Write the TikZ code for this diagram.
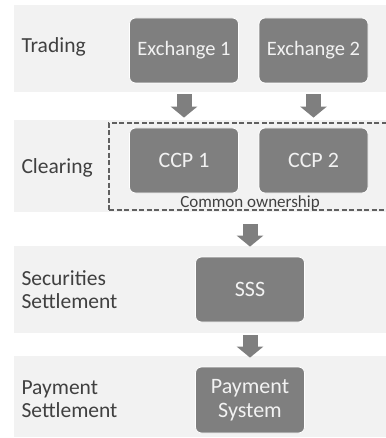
\documentclass[tikz,border=0pt]{standalone}
\usepackage{fontspec}
\setmainfont{Carlito}
\usetikzlibrary{arrows.meta}

\definecolor{bandgray}{HTML}{F2F2F2}
\definecolor{boxgray}{HTML}{7F7F7F}
\definecolor{labelgray}{HTML}{404040}
\definecolor{dashgray}{HTML}{606060}

\tikzset{
  band/.style={fill=bandgray},
  stagebox/.style={fill=boxgray, draw=white, line width=0.8pt, rounded corners=6pt,
    text=bandgray, align=center, font=\fontsize{22}{24}\selectfont,
    minimum width=109pt, minimum height=65pt},
  rowlabel/.style={anchor=west, align=left, text=labelgray, font=\fontsize{21.5}{23}\selectfont},
  flow/.style={draw=boxgray, line width=15pt, -{Triangle[width=26pt,length=11pt]}},
}

\begin{document}
\begin{tikzpicture}[x=1pt, y=-1pt]
    \useasboundingbox (0,0) rectangle (385,438);
    % Bands
    \fill[band] (14,5) rectangle (390,92);
    \fill[band] (14,120) rectangle (390,212);
    \fill[band] (14,246) rectangle (390,333);
    \fill[band] (14,356) rectangle (390,437);

    % Row labels
    \node[rowlabel] (trading) at (18,47) {Trading};
    \node[rowlabel] (clearing) at (18,168) {Clearing};
    \node[rowlabel] (secset) at (18,289.5) {Securities\\Settlement};
    \node[rowlabel] (payset) at (18,399.5) {Payment\\Settlement};

    % Trading and clearing
    \node[stagebox, font=\fontsize{20.5}{23}\selectfont] (ex1) at (184,50.5) {Exchange 1};
    \node[stagebox, font=\fontsize{20.5}{23}\selectfont] (ex2) at (313.5,50.5) {Exchange 2};
    \node[stagebox] (ccp1) at (184,160.5) {CCP 1};
    \node[stagebox] (ccp2) at (313.5,160.5) {CCP 2};
    \node[draw=dashgray, line width=1.5pt, dash pattern=on 5pt off 2.5pt,
      minimum width=279pt, minimum height=87pt] (common) at (248.5,166.5) {};
    \node[text=labelgray, font=\fontsize{17}{20}\selectfont] (own) at (250,202.5) {Common ownership};

    % Settlement
    \node[stagebox] (sss) at (250,289.5) {SSS};
    \node[stagebox, minimum height=66pt] (pay) at (250,400) {Payment\\System};

    % Arrows
    \draw[flow, shorten <=11pt, shorten >=10pt] (ex1.south) -- (ccp1.north);
    \draw[flow, shorten <=11pt, shorten >=10pt] (ex2.south) -- (ccp2.north);
    \draw[flow, shorten <=13pt, shorten >=10pt] (common.south -| sss) -- (sss.north);
    \draw[flow, shorten <=13pt, shorten >=9pt] (sss.south) -- (pay.north);
\end{tikzpicture}
\end{document}
